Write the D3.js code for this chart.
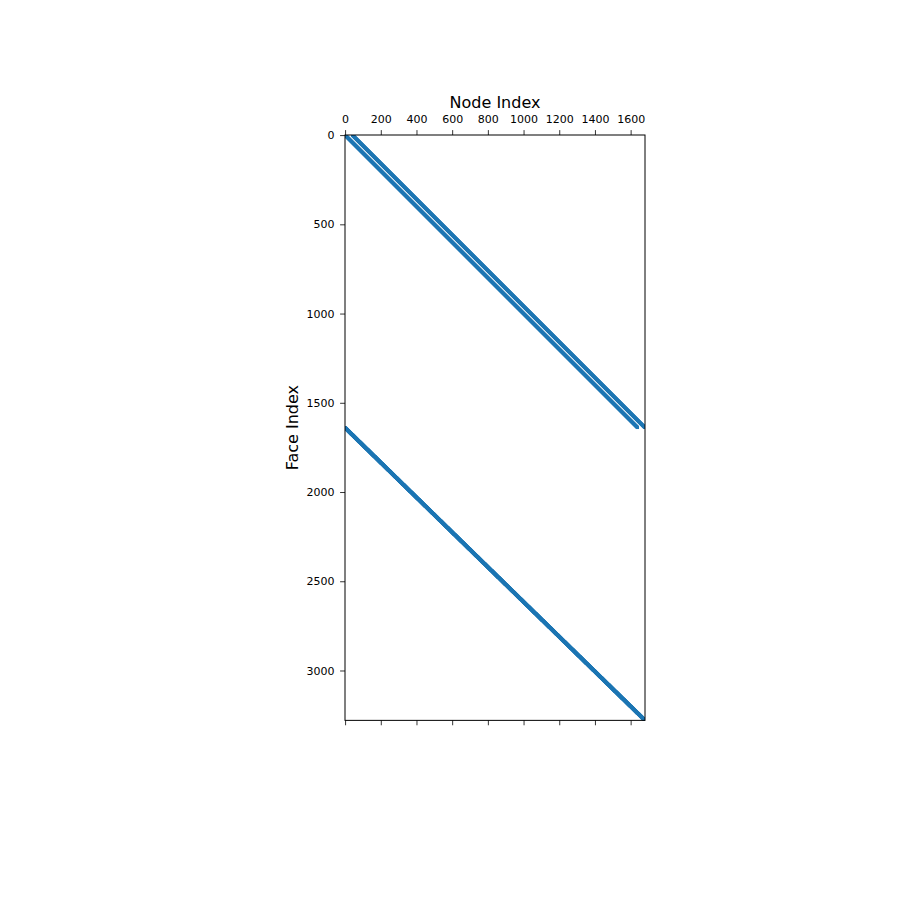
<!DOCTYPE html>
<html>
<head>
<meta charset="utf-8">
<script src="https://cdn.jsdelivr.net/npm/d3@7"></script>
<style>
  html, body { margin: 0; padding: 0; background: #fff; }
  svg { display: block; }
  text { font-family: "DejaVu Sans", sans-serif; fill: #000; }
</style>
</head>
<body>
<svg id="chart" width="900" height="900"></svg>
<script>
// ---- data: mesh structure (41 x 41 structured grid of nodes) ----
const nodesPerRow = 41;
const nodeRows = 41;
const xTickValues = [0, 200, 400, 600, 800, 1000, 1200, 1400, 1600];
const yTickValues = [0, 500, 1000, 1500, 2000, 2500, 3000];
const xLabel = "Node Index";
const yLabel = "Face Index";

const nNodes = nodesPerRow * nodeRows;                 // 1681
const nVertFaces = nodesPerRow * (nodeRows - 1);       // 1640
const nHorzFaces = nodeRows * (nodesPerRow - 1);       // 1640
const nFaces = nVertFaces + nHorzFaces;                // 3280

// face -> node incidence (nonzeros of the sparse matrix)
const nonzeros = [];
for (let f = 0; f < nVertFaces; f++) {
  nonzeros.push({face: f, node: f});
  nonzeros.push({face: f, node: f + nodesPerRow});
}
for (let i = 0; i < nodeRows; i++) {
  for (let j = 0; j < nodesPerRow - 1; j++) {
    const f = nVertFaces + i * (nodesPerRow - 1) + j;
    nonzeros.push({face: f, node: i * nodesPerRow + j});
    nonzeros.push({face: f, node: i * nodesPerRow + j + 1});
  }
}

// ---- layout ----
const padLeft = 345, padTop = 135, plotW = 300;
const plotH = plotW * nFaces / nNodes;

const svg = d3.select("#chart");
const x = d3.scaleLinear().domain([-0.5, nNodes - 0.5]).range([padLeft, padLeft + plotW]);
const y = d3.scaleLinear().domain([-0.5, nFaces - 0.5]).range([padTop, padTop + plotH]);

const color = "#1f77b4";
const m = 2.9;

svg.append("clipPath").attr("id", "clip")
  .append("rect").attr("x", padLeft).attr("y", padTop).attr("width", plotW).attr("height", plotH);

svg.append("g").attr("clip-path", "url(#clip)")
  .selectAll("rect").data(nonzeros).join("rect")
  .attr("x", d => x(d.node) - m / 2)
  .attr("y", d => y(d.face) - m / 2)
  .attr("width", m).attr("height", m)
  .attr("fill", color);

// frame
svg.append("rect").attr("x", padLeft).attr("y", padTop).attr("width", plotW).attr("height", plotH)
  .attr("fill", "none").attr("stroke", "#000").attr("stroke-width", 1);

// axes
const tickLen = 4.9, fs = 11;
const fmt = d3.format("d");
const topAxis = d3.axisTop(x).tickValues(xTickValues).tickSize(tickLen).tickPadding(7).tickFormat(fmt);
const bottomAxis = d3.axisBottom(x).tickValues(xTickValues).tickSize(tickLen).tickFormat("");
const leftAxis = d3.axisLeft(y).tickValues(yTickValues).tickSize(tickLen).tickPadding(5.5).tickFormat(fmt);

function style(g) {
  g.select(".domain").remove();
  g.selectAll("line").attr("stroke", "#000").attr("stroke-width", 0.8);
  g.selectAll("text").attr("font-size", fs).attr("font-family", "DejaVu Sans, sans-serif").attr("fill", "#000");
}
svg.append("g").attr("transform", `translate(0,${padTop})`).call(topAxis).call(style);
svg.append("g").attr("transform", `translate(0,${padTop + plotH})`).call(bottomAxis).call(style);
svg.append("g").attr("transform", `translate(${padLeft},0)`).call(leftAxis).call(style);

// labels
svg.append("text").attr("x", padLeft + plotW / 2).attr("y", 108)
  .attr("text-anchor", "middle").attr("font-size", 16).text(xLabel);
svg.append("text")
  .attr("transform", `translate(298,${padTop + plotH / 2}) rotate(-90)`)
  .attr("text-anchor", "middle").attr("font-size", 16).text(yLabel);
</script>
</body>
</html>
